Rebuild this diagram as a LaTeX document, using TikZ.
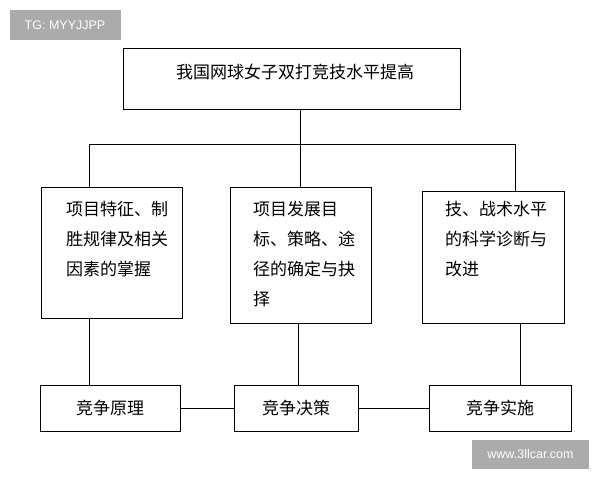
\documentclass[tikz,border=0pt]{standalone}
\usepackage{fontspec}
\newfontfamily\cjk{Noto Sans CJK SC}
\setmainfont{Liberation Sans}
\begin{document}
\begin{tikzpicture}[x=1pt,y=-1pt,
  box/.style={draw,line width=1pt,inner sep=0pt},
  txt/.style={font=\cjk\fontsize{17}{30}\selectfont,align=left,anchor=north,inner sep=0pt},
  lbl/.style={font=\cjk\fontsize{17}{20}\selectfont},
  ln/.style={line width=1pt},
  wm/.style={fill=black!33,text=white,font=\fontsize{12.5}{14}\selectfont,inner sep=0pt}]
\useasboundingbox (0,0) rectangle (600,480);
\node[wm,minimum width=111pt,minimum height=30pt] (w1) at (65,25) {TG: MYYJJPP};
\node[wm,minimum width=117pt,minimum height=29pt] (w2) at (530.5,454.5) {www.3llcar.com};
\node[box,minimum width=337pt,minimum height=61pt] (top) at (291.5,78.5) {};
\node[lbl] (toptxt) at (295,72) {我国网球女子双打竞技水平提高};
\node[box,minimum width=141pt,minimum height=131pt] (b1) at (111.5,252.5) {};
\node[box,minimum width=141pt,minimum height=136pt] (b2) at (300.5,255) {};
\node[box,minimum width=142pt,minimum height=132pt] (b3) at (493,257) {};
\node[txt] (t1) at (117,201) {项目特征、制\\胜规律及相关\\因素的掌握};
\node[txt] (t2) at (304,201) {项目发展目\\标、策略、途\\径的确定与抉\\择};
\node[txt] (t3) at (496,201) {技、战术水平\\的科学诊断与\\改进};
\node[box,minimum width=140pt,minimum height=46pt] (c1) at (110,408) {};
\node[box,minimum width=124pt,minimum height=46pt] (c2) at (296,408) {};
\node[box,minimum width=142pt,minimum height=46pt] (c3) at (500,408) {};
\node[lbl] (ct1) at (c1) {竞争原理};
\node[lbl] (ct2) at (c2) {竞争决策};
\node[lbl] (ct3) at (c3) {竞争实施};
\coordinate (h) at (300,144);
\draw[ln] (top.south -| h) -- (h);
\draw[ln] (89,144) coordinate (hl) -- (515,144) coordinate (hr);
\draw[ln] (hl) -- (b1.north -| hl);
\draw[ln] (h) -- (b2.north -| h);
\draw[ln] (hr) -- (b3.north -| hr);
\coordinate (v1) at (89,0);
\coordinate (v2) at (298,0);
\coordinate (v3) at (520,0);
\draw[ln] (b1.south -| v1) -- (c1.north -| v1);
\draw[ln] (b2.south -| v2) -- (c2.north -| v2);
\draw[ln] (b3.south -| v3) -- (c3.north -| v3);
\draw[ln] (c1.east) -- (c2.west);
\draw[ln] (c2.east) -- (c3.west);
\end{tikzpicture}
\end{document}
